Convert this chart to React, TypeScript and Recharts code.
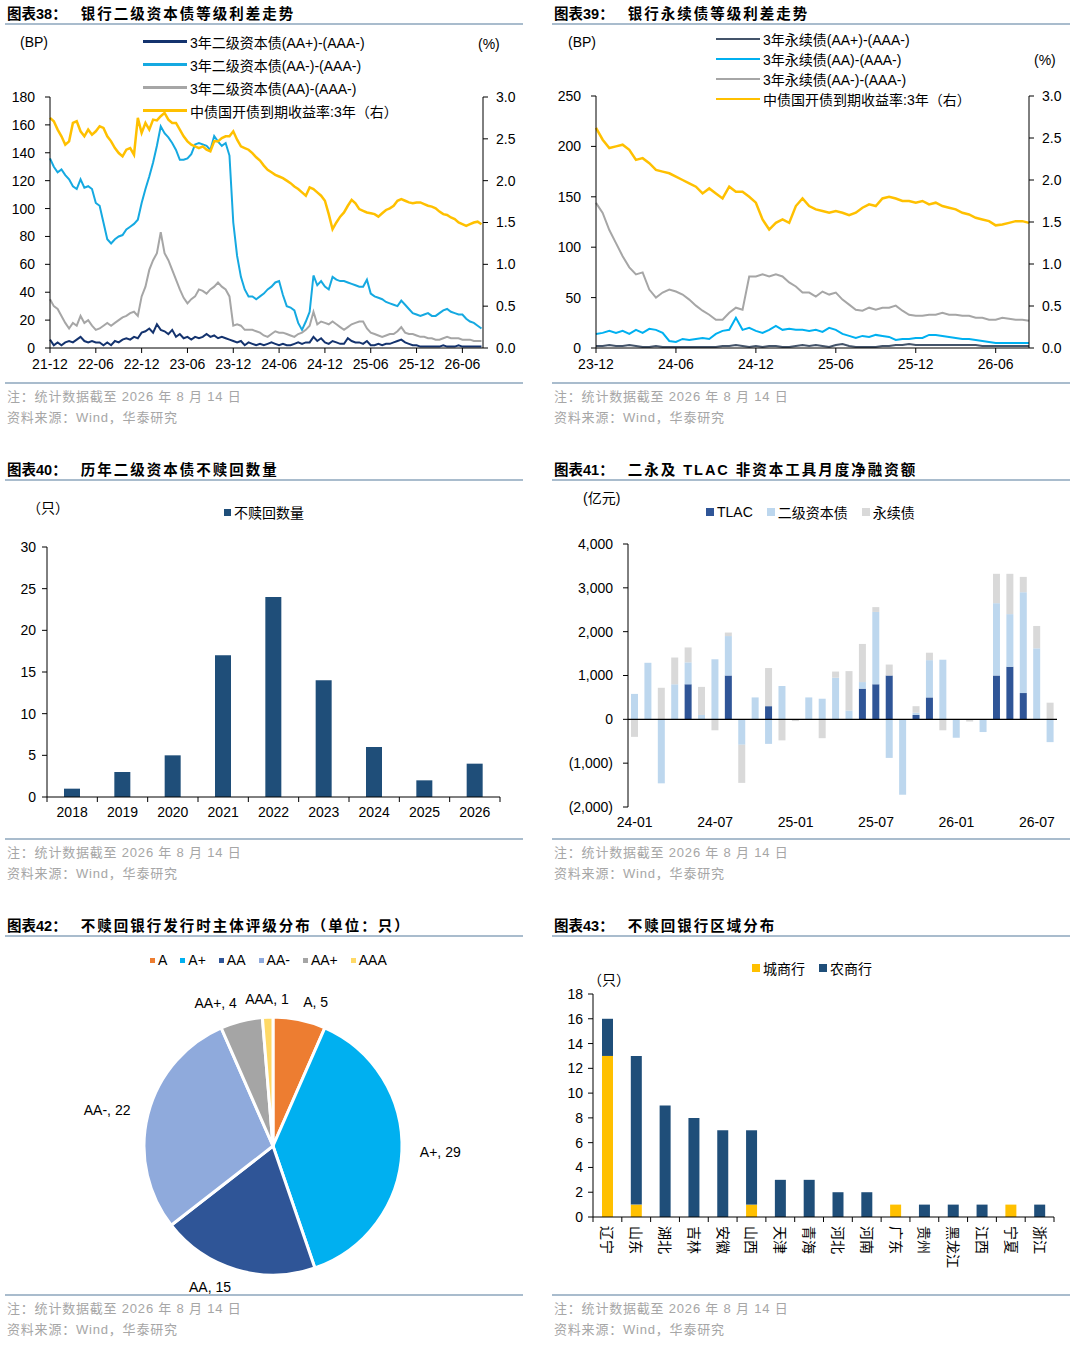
import React from "react"
import {
  LineChart,
  Line,
  BarChart,
  Bar,
  PieChart,
  Pie,
  Cell,
  XAxis,
  YAxis,
  Legend,
  ReferenceLine,
} from "recharts"

const FONT = '"Liberation Sans", Arial, "Noto Sans CJK SC", sans-serif'
const RULE = "#A9BCCD"

// ---------- 图表38: half-month steps from 21-12 ----------
const ticks38 = ["21-12", "22-06", "22-12", "23-06", "23-12", "24-06", "24-12", "25-06", "25-12", "26-06"]
const names38 = ["3年二级资本债(AA+)-(AAA-)", "3年二级资本债(AA-)-(AAA-)", "3年二级资本债(AA)-(AAA-)", "中债国开债到期收益率:3年（右）"]
const aaPlus38 = [
  6, 2, 4, 2, 4, 5, 4, 6, 8, 5, 4, 5, 4, 4, 2, 4, 2, 5, 4, 6, 7, 6, 8, 7, 11, 12, 14, 11, 17, 13,
  12, 10, 13, 8, 10, 7, 8, 6, 8, 7, 8, 10, 8, 9, 7, 8, 7, 6, 5, 4, 5, 2, 4,
  3, 2, 3, 2, 3, 4, 3, 2, 3, 2, 2, 3, 4, 3, 4, 4, 8, 5, 7, 4, 3, 5, 4, 3, 3, 7, 5, 4, 4, 3,
  5, 2, 2, 3, 2, 3, 3, 4, 5, 6, 4, 3, 2, 2, 1, 1, 1, 1, 1, 1, 2, 1, 1, 1, 2, 1, 1, 1, 1, 1, 1,
]
const aaMinus38 = [
  136, 130, 126, 128, 124, 121, 116, 114, 121, 115, 116, 114, 104, 102, 90, 78, 75, 78, 80, 81,
  85, 87, 89, 92, 104, 114, 123, 133, 145, 159, 154, 151, 147, 142, 135, 135, 136, 139, 146, 147,
  146, 145, 142, 152, 148, 145, 147, 138, 90, 66, 51, 42, 37,
  37, 35, 37, 39, 42, 44, 47, 48, 38, 30, 29, 27, 18, 13, 19, 26, 52, 45, 48, 44,
  42, 51, 49, 48, 48, 47, 46, 45, 44, 44, 49, 39, 37, 36, 35, 33, 32, 31, 30, 34,
  31, 28, 25, 24, 23, 24, 25, 23, 23, 25, 27, 28, 26, 25, 24, 24, 21, 19, 18, 16, 14,
]
const aa38 = [
  35, 30, 28, 23, 18, 14, 18, 16, 23, 18, 20, 16, 13, 14, 16, 18, 16, 18, 20, 22,
  23, 25, 26, 23, 37, 44, 56, 63, 68, 83, 68, 63, 56, 49, 42, 36, 32, 35, 37, 42,
  41, 39, 42, 44, 47, 44, 42, 37, 16, 17, 16, 13, 13,
  13, 12, 11, 9, 8, 10, 12, 11, 11, 10, 9, 8, 10, 11, 13, 16, 26, 17, 19, 18,
  17, 19, 17, 15, 13, 15, 17, 18, 19, 19, 14, 11, 10, 9, 8, 9, 10, 10, 12, 15,
  11, 10, 10, 9, 8, 8, 7, 7, 6, 6, 7, 8, 7, 7, 7, 6, 6, 6, 5, 5, 5,
]
const cdb38 = [
  2.75, 2.71, 2.61, 2.53, 2.43, 2.47, 2.69, 2.71, 2.59, 2.53, 2.61, 2.55, 2.59, 2.65, 2.63, 2.53,
  2.47, 2.39, 2.33, 2.29, 2.37, 2.39, 2.31, 2.75, 2.57, 2.69, 2.61, 2.73, 2.72, 2.77, 2.81, 2.73,
  2.69, 2.69, 2.61, 2.53, 2.47, 2.43, 2.41, 2.39, 2.41, 2.37, 2.35, 2.47, 2.47, 2.51, 2.53, 2.53,
  2.59, 2.49, 2.41, 2.39, 2.37,
  2.33, 2.28, 2.24, 2.18, 2.13, 2.1, 2.07, 2.05, 2.03, 2.0, 1.97, 1.93, 1.9, 1.86, 1.82, 1.92,
  1.9, 1.86, 1.82, 1.76, 1.6, 1.42, 1.5, 1.57, 1.62, 1.7, 1.77, 1.73, 1.66, 1.64, 1.62, 1.61,
  1.6, 1.57, 1.61, 1.65, 1.67, 1.7, 1.76, 1.78, 1.76, 1.74, 1.73, 1.74, 1.74, 1.72, 1.7, 1.69,
  1.67, 1.63, 1.6, 1.59, 1.56, 1.54, 1.5, 1.48, 1.46, 1.48, 1.5, 1.51, 1.48,
]

// ---------- 图表39: half-month steps from 23-12 ----------
const ticks39 = ["23-12", "24-06", "24-12", "25-06", "25-12", "26-06"]
const names39 = ["3年永续债(AA+)-(AAA-)", "3年永续债(AA)-(AAA-)", "3年永续债(AA-)-(AAA-)", "中债国开债到期收益率:3年（右）"]
const aaPlus39 = [
  2, 2, 3, 2, 2, 3, 2, 1, 1, 2, 1, 1, 1, 1, 1, 1, 1, 1, 1, 2, 2, 3, 2, 1, 2, 1, 2, 2, 1, 1, 2, 3, 2,
  3, 2, 1, 3, 4, 2, 1, 1, 1, 1, 2, 2, 3, 3, 4, 3, 3, 3, 3, 3, 3, 3, 3, 3, 3, 2, 2, 2, 2, 2, 2, 2, 2,
]
const aa39 = [
  14, 15, 17, 15, 17, 14, 18, 15, 19, 18, 15, 7, 6, 9, 8, 9, 10, 9, 14, 17, 18, 30, 18, 20, 17, 15,
  18, 22, 18, 19, 18, 18, 17, 18, 16, 20, 18, 14, 12, 10, 12, 11, 13, 12, 11, 8, 9, 9, 10, 10, 13,
  13, 12, 11, 10, 9, 9, 8, 7, 6, 5, 5, 5, 5, 5, 5,
]
const aaMinus39 = [
  144, 134, 117, 104, 91, 80, 73, 75, 58, 50, 55, 58, 56, 53, 48, 42, 37, 33, 28, 28, 35, 40, 38,
  71, 71, 73, 71, 73, 71, 65, 61, 55, 55, 51, 56, 53, 55, 48, 43, 38, 37, 40, 38, 40, 40, 42, 37,
  33, 32, 32, 33, 33, 35, 33, 33, 32, 32, 30, 30, 28, 28, 30, 29, 28, 28, 27,
]
const cdb39 = [
  2.62, 2.48, 2.38, 2.4, 2.42, 2.36, 2.24, 2.26, 2.2, 2.12, 2.1, 2.08, 2.04, 2.0, 1.96, 1.92, 1.84,
  1.9, 1.84, 1.78, 1.92, 1.86, 1.86, 1.8, 1.73, 1.53, 1.41, 1.49, 1.53, 1.49, 1.69, 1.78, 1.69,
  1.65, 1.63, 1.61, 1.63, 1.61, 1.58, 1.61, 1.67, 1.71, 1.69, 1.78, 1.8, 1.78, 1.75, 1.75, 1.73,
  1.75, 1.71, 1.73, 1.69, 1.67, 1.65, 1.61, 1.59, 1.55, 1.53, 1.51, 1.46, 1.47, 1.49, 1.51, 1.51,
  1.49,
]

// ---------- 图表40 ----------
const years40 = ["2018", "2019", "2020", "2021", "2022", "2023", "2024", "2025", "2026"]
const noCall40 = [1, 3, 5, 17, 24, 14, 6, 2, 4]

// ---------- 图表41 ----------
const names41 = ["TLAC", "二级资本债", "永续债"]
const months41 = [
  "24-01", "24-02", "24-03", "24-04", "24-05", "24-06", "24-07", "24-08", "24-09", "24-10", "24-11",
  "24-12", "25-01", "25-02", "25-03", "25-04", "25-05", "25-06", "25-07", "25-08", "25-09", "25-10",
  "25-11", "25-12", "26-01", "26-02", "26-03", "26-04", "26-05", "26-06", "26-07", "26-08",
]
const tlac41 = [0, 0, 0, 0, 800, 0, 0, 1000, 0, 0, 300, 0, 0, 0, 0, 0, 0, 700, 800, 1000, 0, 100, 500, 0, 0, 0, 0, 1000, 1200, 600, 0, 0]
const tier2_41 = [580, 1290, -1460, 800, 500, 100, 1370, 900, -580, 500, -560, 760, 0, 500, 470, 950, 200, 150, 1650, -880, -1720, 50, 850, 1360, -420, 0, -290, 1650, 1200, 2300, 1620, -520]
const perp41 = [-400, 0, 720, 610, 340, 640, -250, 80, -870, 0, 870, -480, -40, 0, -430, 140, 900, 870, 110, 250, 0, 150, 170, -250, 0, -50, 0, 670, 920, 350, 510, 380]

// ---------- 图表42 ----------
const ratings42 = ["A", "A+", "AA", "AA-", "AA+", "AAA"]
const counts42 = [5, 29, 15, 22, 4, 1]
const colors42 = ["#ED7D31", "#00B0F0", "#2F5597", "#8FAADC", "#A5A5A5", "#FFD966"]

// ---------- 图表43 ----------
const names43 = ["城商行", "农商行"]
const provinces43 = ["辽宁", "山东", "湖北", "吉林", "安徽", "山西", "天津", "青海", "河北", "河南", "广东", "贵州", "黑龙江", "江西", "宁夏", "浙江"]
const city43 = [13, 1, 0, 0, 0, 1, 0, 0, 0, 0, 1, 0, 0, 0, 1, 0]
const rural43 = [3, 12, 9, 8, 7, 6, 3, 3, 2, 2, 0, 1, 1, 1, 0, 1]

const data38 = cdb38.map((v, i) => ({ t: i / 2, aaPlus: aaPlus38[i], aaMinus: aaMinus38[i], aa: aa38[i], cdb: v }))
const data39 = cdb39.map((v, i) => ({ t: i / 2, aaPlus: aaPlus39[i], aa: aa39[i], aaMinus: aaMinus39[i], cdb: v }))
const data40 = years40.map((y, i) => ({ year: y, n: noCall40[i] }))
const data41 = months41.map((m, i) => ({ m, tlac: tlac41[i], tier2: tier2_41[i], perp: perp41[i] }))
const data42 = ratings42.map((r, i) => ({ name: r, value: counts42[i] }))
const data43 = provinces43.map((p, i) => ({ p, city: city43[i], rural: rural43[i] }))

const tickStyle = { fill: "#000", fontSize: 14, fontFamily: FONT }
const axisStroke = { stroke: "#000" }

function Panel({ left, top, label, title }: { left: number; top: number; label: string; title: string }) {
  return (
    <>
      <div style={{ position: "absolute", left: left + 2, top: top + 2, fontFamily: FONT, fontSize: 14.5, fontWeight: 700, whiteSpace: "nowrap", color: "#000" }}>
        <span>{label}</span>
        <span style={{ marginLeft: 14, letterSpacing: 2 }}>{title}</span>
      </div>
      <div style={{ position: "absolute", left, top: top + 23, width: 518, height: 1.5, background: RULE }} />
      <div style={{ position: "absolute", left, top: top + 382, width: 518, height: 1.5, background: RULE }} />
      <div style={{ position: "absolute", left: left + 2, top: top + 386, fontFamily: FONT, fontSize: 13, color: "#A6A6A6", letterSpacing: 0.8, whiteSpace: "nowrap" }}>
        注：统计数据截至 2026 年 8 月 14 日
      </div>
      <div style={{ position: "absolute", left: left + 2, top: top + 407, fontFamily: FONT, fontSize: 13, color: "#A6A6A6", letterSpacing: 0.8, whiteSpace: "nowrap" }}>
        资料来源：Wind，华泰研究
      </div>
    </>
  )
}

function Note({ left, top, text }: { left: number; top: number; text: string }) {
  return (
    <div style={{ position: "absolute", left, top, fontFamily: FONT, fontSize: 14, color: "#000", whiteSpace: "nowrap" }}>{text}</div>
  )
}

// keep legend entries in series order instead of the default sort
const ordered = (payload: any[] | undefined, order: string[]) =>
  [...(payload || [])].sort((a, b) => order.indexOf(a.value) - order.indexOf(b.value))

const lineLegend = (rowH: number, order: string[]) => (props: any) => (
  <div>
    {ordered(props.payload, order).map((p: any) => (
      <div key={p.value} style={{ display: "flex", alignItems: "center", height: rowH }}>
        <span style={{ display: "inline-block", width: 44, height: 2.5, background: p.color, marginRight: 3 }} />
        <span style={{ fontSize: 14, fontFamily: FONT, color: "#000", whiteSpace: "nowrap" }}>{p.value}</span>
      </div>
    ))}
  </div>
)

const boxLegend = (box: number, gap: number, order: string[]) => (props: any) => (
  <div style={{ display: "flex", alignItems: "center" }}>
    {ordered(props.payload, order).map((p: any) => (
      <div key={p.value} style={{ display: "flex", alignItems: "center", marginRight: gap }}>
        <span style={{ display: "inline-block", width: box, height: box, background: p.color, marginRight: 3 }} />
        <span style={{ fontSize: 14, fontFamily: FONT, color: "#000", whiteSpace: "nowrap" }}>{p.value}</span>
      </div>
    ))}
  </div>
)

// category tick with tick marks on band boundaries
function BandTick(props: any) {
  const { x, y, payload, index, visibleTicksCount, tkLen, tkGap, vertical, half } = props
  const axisY = y - tkLen - tkGap
  const h = payload && payload.offset ? payload.offset : half
  const last = index === visibleTicksCount - 1
  return (
    <g>
      <line x1={x - h} x2={x - h} y1={axisY} y2={axisY + tkLen} stroke="#000" />
      {last && <line x1={x + h} x2={x + h} y1={axisY} y2={axisY + tkLen} stroke="#000" />}
      {vertical ? (
        <text x={x} y={y} transform={`rotate(90, ${x}, ${y})`} textAnchor="start" dominantBaseline="central" fill="#000" fontSize={14} fontFamily={FONT}>
          {payload.value}
        </text>
      ) : (
        <text x={x} y={y} dy="0.71em" textAnchor="middle" fill="#000" fontSize={14} fontFamily={FONT}>
          {payload.value}
        </text>
      )}
    </g>
  )
}

const RAD = Math.PI / 180
function pieLabel(props: any) {
  const { cx, cy, midAngle, outerRadius, name, value } = props
  const r = outerRadius + 18
  const c = Math.cos(-midAngle * RAD)
  const s = Math.sin(-midAngle * RAD)
  const anchor = c > 0.1 ? "start" : c < -0.1 ? "end" : "middle"
  return (
    <text x={cx + r * c} y={cy + r * s} textAnchor={anchor} dominantBaseline="central" fill="#000" fontSize={14} fontFamily={FONT}>
      {`${name}, ${value}`}
    </text>
  )
}

const fmtThousands = (v: number) => {
  const s = Math.abs(v).toLocaleString("en-US")
  return v < 0 ? `(${s})` : s
}

export default function App() {
  return (
    <div style={{ position: "absolute", left: 0, top: 0, width: 1080, height: 1348, background: "#fff", overflow: "hidden" }}>
      <Panel left={5} top={0} label="图表38：" title="银行二级资本债等级利差走势" />
      <Panel left={552} top={0} label="图表39：" title="银行永续债等级利差走势" />
      <Panel left={5} top={456} label="图表40：" title="历年二级资本债不赎回数量" />
      <Panel left={552} top={456} label="图表41：" title="二永及 TLAC 非资本工具月度净融资额" />
      <Panel left={5} top={912} label="图表42：" title="不赎回银行发行时主体评级分布（单位：只）" />
      <Panel left={552} top={912} label="图表43：" title="不赎回银行区域分布" />

      {/* 图表38 */}
      <div style={{ position: "absolute", left: 0, top: 0 }}>
        <LineChart width={530} height={380} data={data38} margin={{ top: 97, right: 0, bottom: 2, left: 0 }}>
          <XAxis
            dataKey="t"
            type="number"
            domain={[0, 56.7]}
            ticks={ticks38.map((_, i) => i * 6)}
            tickFormatter={(v: number) => ticks38[Math.round(v / 6)]}
            interval={0}
            height={30}
            tickSize={5}
            tickMargin={6}
            axisLine={axisStroke}
            tickLine={axisStroke}
            tick={tickStyle}
          />
          <YAxis yAxisId="l" domain={[0, 180]} ticks={[0, 20, 40, 60, 80, 100, 120, 140, 160, 180]} interval={0} width={50} tickSize={5} tickMargin={10} axisLine={axisStroke} tickLine={axisStroke} tick={tickStyle} />
          <YAxis yAxisId="r" orientation="right" domain={[0, 3]} ticks={[0, 0.5, 1, 1.5, 2, 2.5, 3]} interval={0} tickFormatter={(v: number) => v.toFixed(1)} width={47} tickSize={5} tickMargin={8} axisLine={axisStroke} tickLine={axisStroke} tick={tickStyle} />
          <Legend layout="horizontal" verticalAlign="middle" align="center" wrapperStyle={{ left: 143, top: 30, width: 330 }} content={lineLegend(23, names38)} />
          <Line yAxisId="l" dataKey="aaPlus" name={names38[0]} stroke="#14336E" strokeWidth={2} dot={false} isAnimationActive={false} />
          <Line yAxisId="l" dataKey="aaMinus" name={names38[1]} stroke="#15A9E1" strokeWidth={2} dot={false} isAnimationActive={false} />
          <Line yAxisId="l" dataKey="aa" name={names38[2]} stroke="#A6A6A6" strokeWidth={2} dot={false} isAnimationActive={false} />
          <Line yAxisId="r" dataKey="cdb" name={names38[3]} stroke="#FFC000" strokeWidth={2.5} dot={false} isAnimationActive={false} />
        </LineChart>
      </div>
      <Note left={20} top={34} text="(BP)" />
      <Note left={478} top={36} text="(%)" />

      {/* 图表39 */}
      <div style={{ position: "absolute", left: 547, top: 0 }}>
        <LineChart width={530} height={380} data={data39} margin={{ top: 96, right: 0, bottom: 2, left: 0 }}>
          <XAxis
            dataKey="t"
            type="number"
            domain={[0, 32.45]}
            ticks={ticks39.map((_, i) => i * 6)}
            tickFormatter={(v: number) => ticks39[Math.round(v / 6)]}
            interval={0}
            height={30}
            tickSize={5}
            tickMargin={6}
            axisLine={axisStroke}
            tickLine={axisStroke}
            tick={tickStyle}
          />
          <YAxis yAxisId="l" domain={[0, 250]} ticks={[0, 50, 100, 150, 200, 250]} interval={0} width={49} tickSize={5} tickMargin={10} axisLine={axisStroke} tickLine={axisStroke} tick={tickStyle} />
          <YAxis yAxisId="r" orientation="right" domain={[0, 3]} ticks={[0, 0.5, 1, 1.5, 2, 2.5, 3]} interval={0} tickFormatter={(v: number) => v.toFixed(1)} width={48} tickSize={5} tickMargin={8} axisLine={axisStroke} tickLine={axisStroke} tick={tickStyle} />
          <Legend layout="horizontal" verticalAlign="middle" align="center" wrapperStyle={{ left: 169, top: 29, width: 330 }} content={lineLegend(20, names39)} />
          <Line yAxisId="l" dataKey="aaPlus" name={names39[0]} stroke="#44546A" strokeWidth={2} dot={false} isAnimationActive={false} />
          <Line yAxisId="l" dataKey="aa" name={names39[1]} stroke="#00B0F0" strokeWidth={2} dot={false} isAnimationActive={false} />
          <Line yAxisId="l" dataKey="aaMinus" name={names39[2]} stroke="#A6A6A6" strokeWidth={2} dot={false} isAnimationActive={false} />
          <Line yAxisId="r" dataKey="cdb" name={names39[3]} stroke="#FFC000" strokeWidth={2.5} dot={false} isAnimationActive={false} />
        </LineChart>
      </div>
      <Note left={568} top={34} text="(BP)" />
      <Note left={1034} top={52} text="(%)" />

      {/* 图表40 */}
      <div style={{ position: "absolute", left: 0, top: 456 }}>
        <BarChart width={530} height={380} data={data40} margin={{ top: 91, right: 30, bottom: 9, left: 0 }}>
          <XAxis dataKey="year" height={30} interval={0} tickSize={5} tickMargin={5} axisLine={axisStroke} tickLine={false} tick={<BandTick tkLen={5} tkGap={5} half={25} />} />
          <YAxis domain={[0, 30]} ticks={[0, 5, 10, 15, 20, 25, 30]} interval={0} width={47} tickSize={5} tickMargin={6} axisLine={axisStroke} tickLine={axisStroke} tick={tickStyle} />
          <Legend layout="horizontal" verticalAlign="middle" align="center" wrapperStyle={{ left: 224, top: 46, width: 200 }} content={boxLegend(7, 0, ["不赎回数量"])} />
          <Bar dataKey="n" name="不赎回数量" fill="#1F4E79" barSize={16} isAnimationActive={false} />
        </BarChart>
      </div>
      <Note left={27} top={497} text="（只）" />

      {/* 图表41 */}
      <div style={{ position: "absolute", left: 547, top: 456 }}>
        <BarChart width={530} height={380} data={data41} stackOffset="sign" margin={{ top: 88, right: 20, bottom: 4, left: 0 }}>
          <XAxis dataKey="m" height={25} interval={5} tickSize={0} tickMargin={10} axisLine={false} tickLine={false} tick={tickStyle} />
          <YAxis domain={[-2000, 4000]} ticks={[-2000, -1000, 0, 1000, 2000, 3000, 4000]} interval={0} tickFormatter={fmtThousands} width={81} tickSize={5} tickMargin={10} axisLine={axisStroke} tickLine={axisStroke} tick={tickStyle} />
          <ReferenceLine y={0} stroke="#000" strokeWidth={1.2} />
          <Legend layout="horizontal" verticalAlign="middle" align="center" wrapperStyle={{ left: 159, top: 46, width: 320 }} content={boxLegend(8, 14, names41)} />
          <Bar dataKey="tlac" name={names41[0]} stackId="a" fill="#2F5597" barSize={7} isAnimationActive={false} />
          <Bar dataKey="tier2" name={names41[1]} stackId="a" fill="#BDD7EE" barSize={7} isAnimationActive={false} />
          <Bar dataKey="perp" name={names41[2]} stackId="a" fill="#D9D9D9" barSize={7} isAnimationActive={false} />
        </BarChart>
      </div>
      <Note left={583} top={487} text="(亿元)" />

      {/* 图表42 */}
      <div style={{ position: "absolute", left: 0, top: 912 }}>
        <PieChart width={530} height={390} margin={{ top: 0, right: 0, bottom: 0, left: 0 }}>
          <Legend layout="horizontal" verticalAlign="middle" align="center" wrapperStyle={{ left: 150, top: 40, width: 320 }} content={boxLegend(5, 13, ratings42)} />
          <Pie
            data={data42}
            dataKey="value"
            nameKey="name"
            cx={273}
            cy={234}
            outerRadius={129}
            startAngle={90}
            endAngle={-270}
            stroke="#fff"
            strokeWidth={3}
            label={pieLabel}
            labelLine={false}
            isAnimationActive={false}
          >
            {data42.map((d, i) => (
              <Cell key={d.name} fill={colors42[i]} />
            ))}
          </Pie>
        </PieChart>
      </div>

      {/* 图表43 */}
      <div style={{ position: "absolute", left: 547, top: 912 }}>
        <BarChart width={530} height={380} data={data43} margin={{ top: 82, right: 23, bottom: 15, left: 0 }}>
          <XAxis dataKey="p" height={60} interval={0} tickSize={5} tickMargin={4} axisLine={axisStroke} tickLine={false} tick={<BandTick tkLen={5} tkGap={4} half={14.4} vertical />} />
          <YAxis domain={[0, 18]} ticks={[0, 2, 4, 6, 8, 10, 12, 14, 16, 18]} interval={0} width={46} tickSize={5} tickMargin={5} axisLine={axisStroke} tickLine={axisStroke} tick={tickStyle} />
          <Legend layout="horizontal" verticalAlign="middle" align="center" wrapperStyle={{ left: 205, top: 46, width: 200 }} content={boxLegend(8, 14, names43)} />
          <Bar dataKey="city" name={names43[0]} stackId="b" fill="#FFC000" barSize={11} isAnimationActive={false} />
          <Bar dataKey="rural" name={names43[1]} stackId="b" fill="#1F4E79" barSize={11} isAnimationActive={false} />
        </BarChart>
      </div>
      <Note left={588} top={969} text="（只）" />
    </div>
  )
}
